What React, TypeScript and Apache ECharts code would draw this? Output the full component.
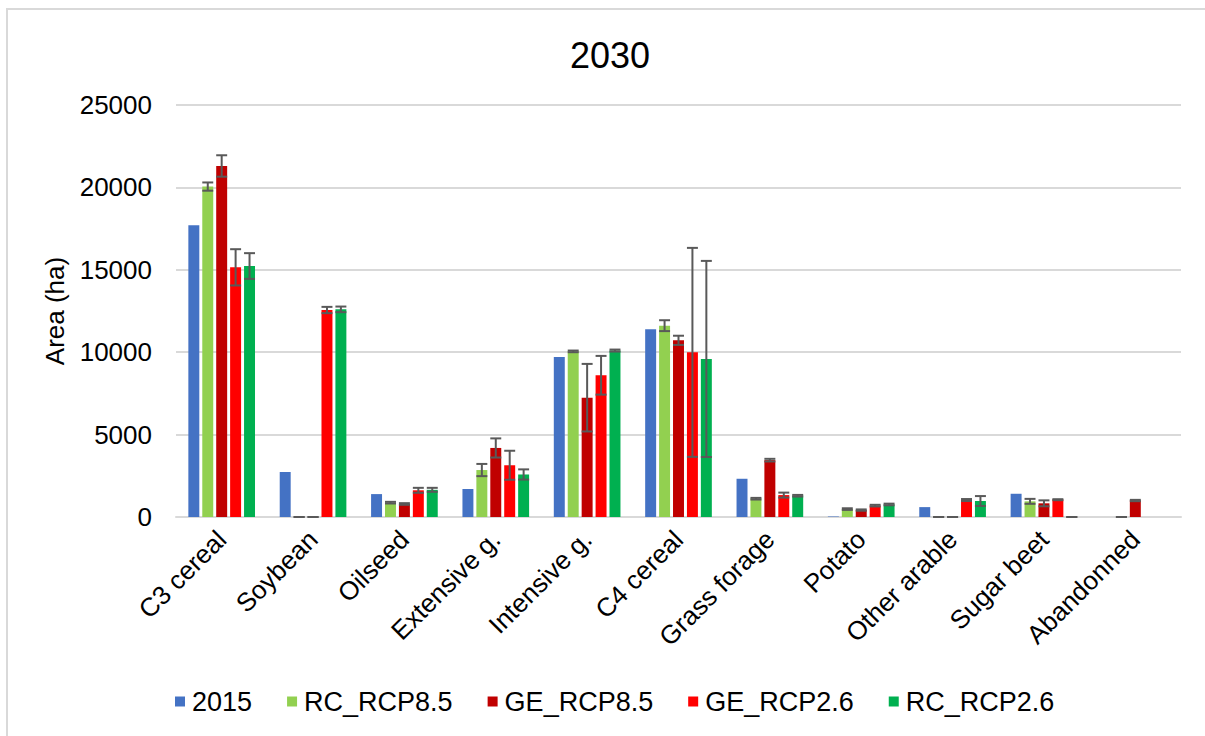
import React, { useEffect, useRef } from "react";
import * as echarts from "echarts";

const categories = ["C3 cereal", "Soybean", "Oilseed", "Extensive g.", "Intensive g.", "C4 cereal", "Grass forage", "Potato", "Other arable", "Sugar beet", "Abandonned"];
const seriesNames = ["2015", "RC_RCP8.5", "GE_RCP8.5", "GE_RCP2.6", "RC_RCP2.6"];
const colors = ["#4472C4", "#92D050", "#C00000", "#FF0000", "#00B050"];

const v2015 = [17700, 2730, 1390, 1700, 9710, 11390, 2320, 30, 600, 1410, 0];
const rc85 = [20050, 0, 870, 2850, 10050, 11610, 1110, 480, 0, 950, 0];
const ge85 = [21300, 0, 790, 4190, 7240, 10720, 3450, 420, 0, 830, 1000];
const ge26 = [15150, 12560, 1620, 3140, 8600, 9990, 1330, 690, 1030, 1050, 0];
const rc26 = [15230, 12600, 1650, 2580, 10100, 9590, 1290, 760, 970, 0, 0];

const rc85Err = [250, 0, 50, 370, 50, 330, 50, 50, 0, 150, 0];
const ge85Err = [650, 0, 50, 580, 2050, 280, 80, 40, 0, 180, 40];
const ge26Err = [1100, 190, 150, 880, 1175, 6340, 150, 50, 60, 30, null];
const rc26Err = [780, 170, 120, 310, 60, 5950, 50, 50, 300, 0, null];

const yTicks = { min: 0, max: 25000, interval: 5000 };

const FONT = "Liberation Sans, Arial, sans-serif";

export default function App() {
  const ref = useRef<HTMLDivElement>(null);
  useEffect(() => {
    if (!ref.current) return;
    const chart = echarts.init(ref.current, undefined, { renderer: "svg" });
    const values = [v2015, rc85, ge85, ge26, rc26];
    const errs: any[] = [null, rc85Err, ge85Err, ge26Err, rc26Err];
    const barFrac = 0.12;
    const gapFrac = 0.27;

    const barSeries = values.map((vals, k) => ({
      name: seriesNames[k],
      type: "bar",
      data: vals,
      barWidth: barFrac * 100 + "%",
      barGap: gapFrac * 100 + "%",
      itemStyle: { color: colors[k] },
      z: 2,
    }));

    const errSeries: any[] = [];
    values.forEach((vals, k) => {
      const e = errs[k];
      if (!e) return;
      const data: any[] = [];
      vals.forEach((v, i) => {
        if (e[i] === null || e[i] === undefined) return;
        data.push([i, v, e[i]]);
      });
      errSeries.push({
        type: "custom",
        name: seriesNames[k] + " err",
        data,
        z: 5,
        silent: true,
        renderItem: (params: any, api: any) => {
          const ci = api.value(0);
          const v = api.value(1);
          const er = api.value(2);
          const band = api.size([1, 0])[0];
          const bw = band * barFrac;
          const step = bw * (1 + gapFrac);
          const top = api.coord([ci, v + er]);
          const bot = api.coord([ci, Math.max(0, v - er)]);
          const x = top[0] + (k - 2) * step;
          const half = bw / 2;
          const style = { stroke: "#595959", lineWidth: 2 };
          return {
            type: "group",
            children: [
              { type: "line", shape: { x1: x, y1: top[1], x2: x, y2: bot[1] }, style },
              { type: "line", shape: { x1: x - half, y1: top[1], x2: x + half, y2: top[1] }, style },
              { type: "line", shape: { x1: x - half, y1: bot[1], x2: x + half, y2: bot[1] }, style },
            ],
          };
        },
      });
    });

    chart.setOption({
      animation: false,
      backgroundColor: "#ffffff",
      title: {
        text: "2030",
        left: 605,
        textAlign: "center",
        top: 32,
        textStyle: { fontFamily: FONT, fontSize: 36, fontWeight: "normal", color: "#000" },
      },
      graphic: [
        {
          type: "rect",
          shape: { x: 7, y: 9, width: 1400, height: 900 },
          style: { fill: "none", stroke: "#d9d9d9", lineWidth: 2 },
          silent: true,
        },
      ],
      legend: {
        data: seriesNames,
        bottom: 16,
        left: 170,
        icon: "rect",
        itemWidth: 10,
        itemHeight: 10,
        itemGap: 35,
        textStyle: { fontFamily: FONT, fontSize: 27, color: "#000", padding: [0, 0, 0, 2] },
      },
      grid: { left: 176, top: 105, width: 1005, height: 412 },
      xAxis: {
        type: "category",
        data: categories,
        axisLine: { lineStyle: { color: "#d9d9d9", width: 2 } },
        axisTick: { show: false },
        axisLabel: { rotate: 45, fontFamily: FONT, fontSize: 26, color: "#000", margin: 18, interval: 0 },
      },
      yAxis: {
        type: "value",
        min: yTicks.min,
        max: yTicks.max,
        interval: yTicks.interval,
        name: "Area (ha)",
        nameLocation: "middle",
        nameRotate: 90,
        nameGap: 108,
        nameTextStyle: { fontFamily: FONT, fontSize: 26, color: "#000" },
        axisLine: { show: false },
        axisTick: { show: false },
        splitLine: { lineStyle: { color: "#d9d9d9", width: 2 } },
        axisLabel: {
          fontFamily: FONT,
          fontSize: 26,
          color: "#000",
          margin: 24,
          formatter: (v: number) => String(v),
        },
      },
      series: [...barSeries, ...errSeries],
    });
    return () => chart.dispose();
  }, []);
  return <div ref={ref} style={{ position: "fixed", left: 0, top: 0, width: 1205, height: 736 }} />;
}
